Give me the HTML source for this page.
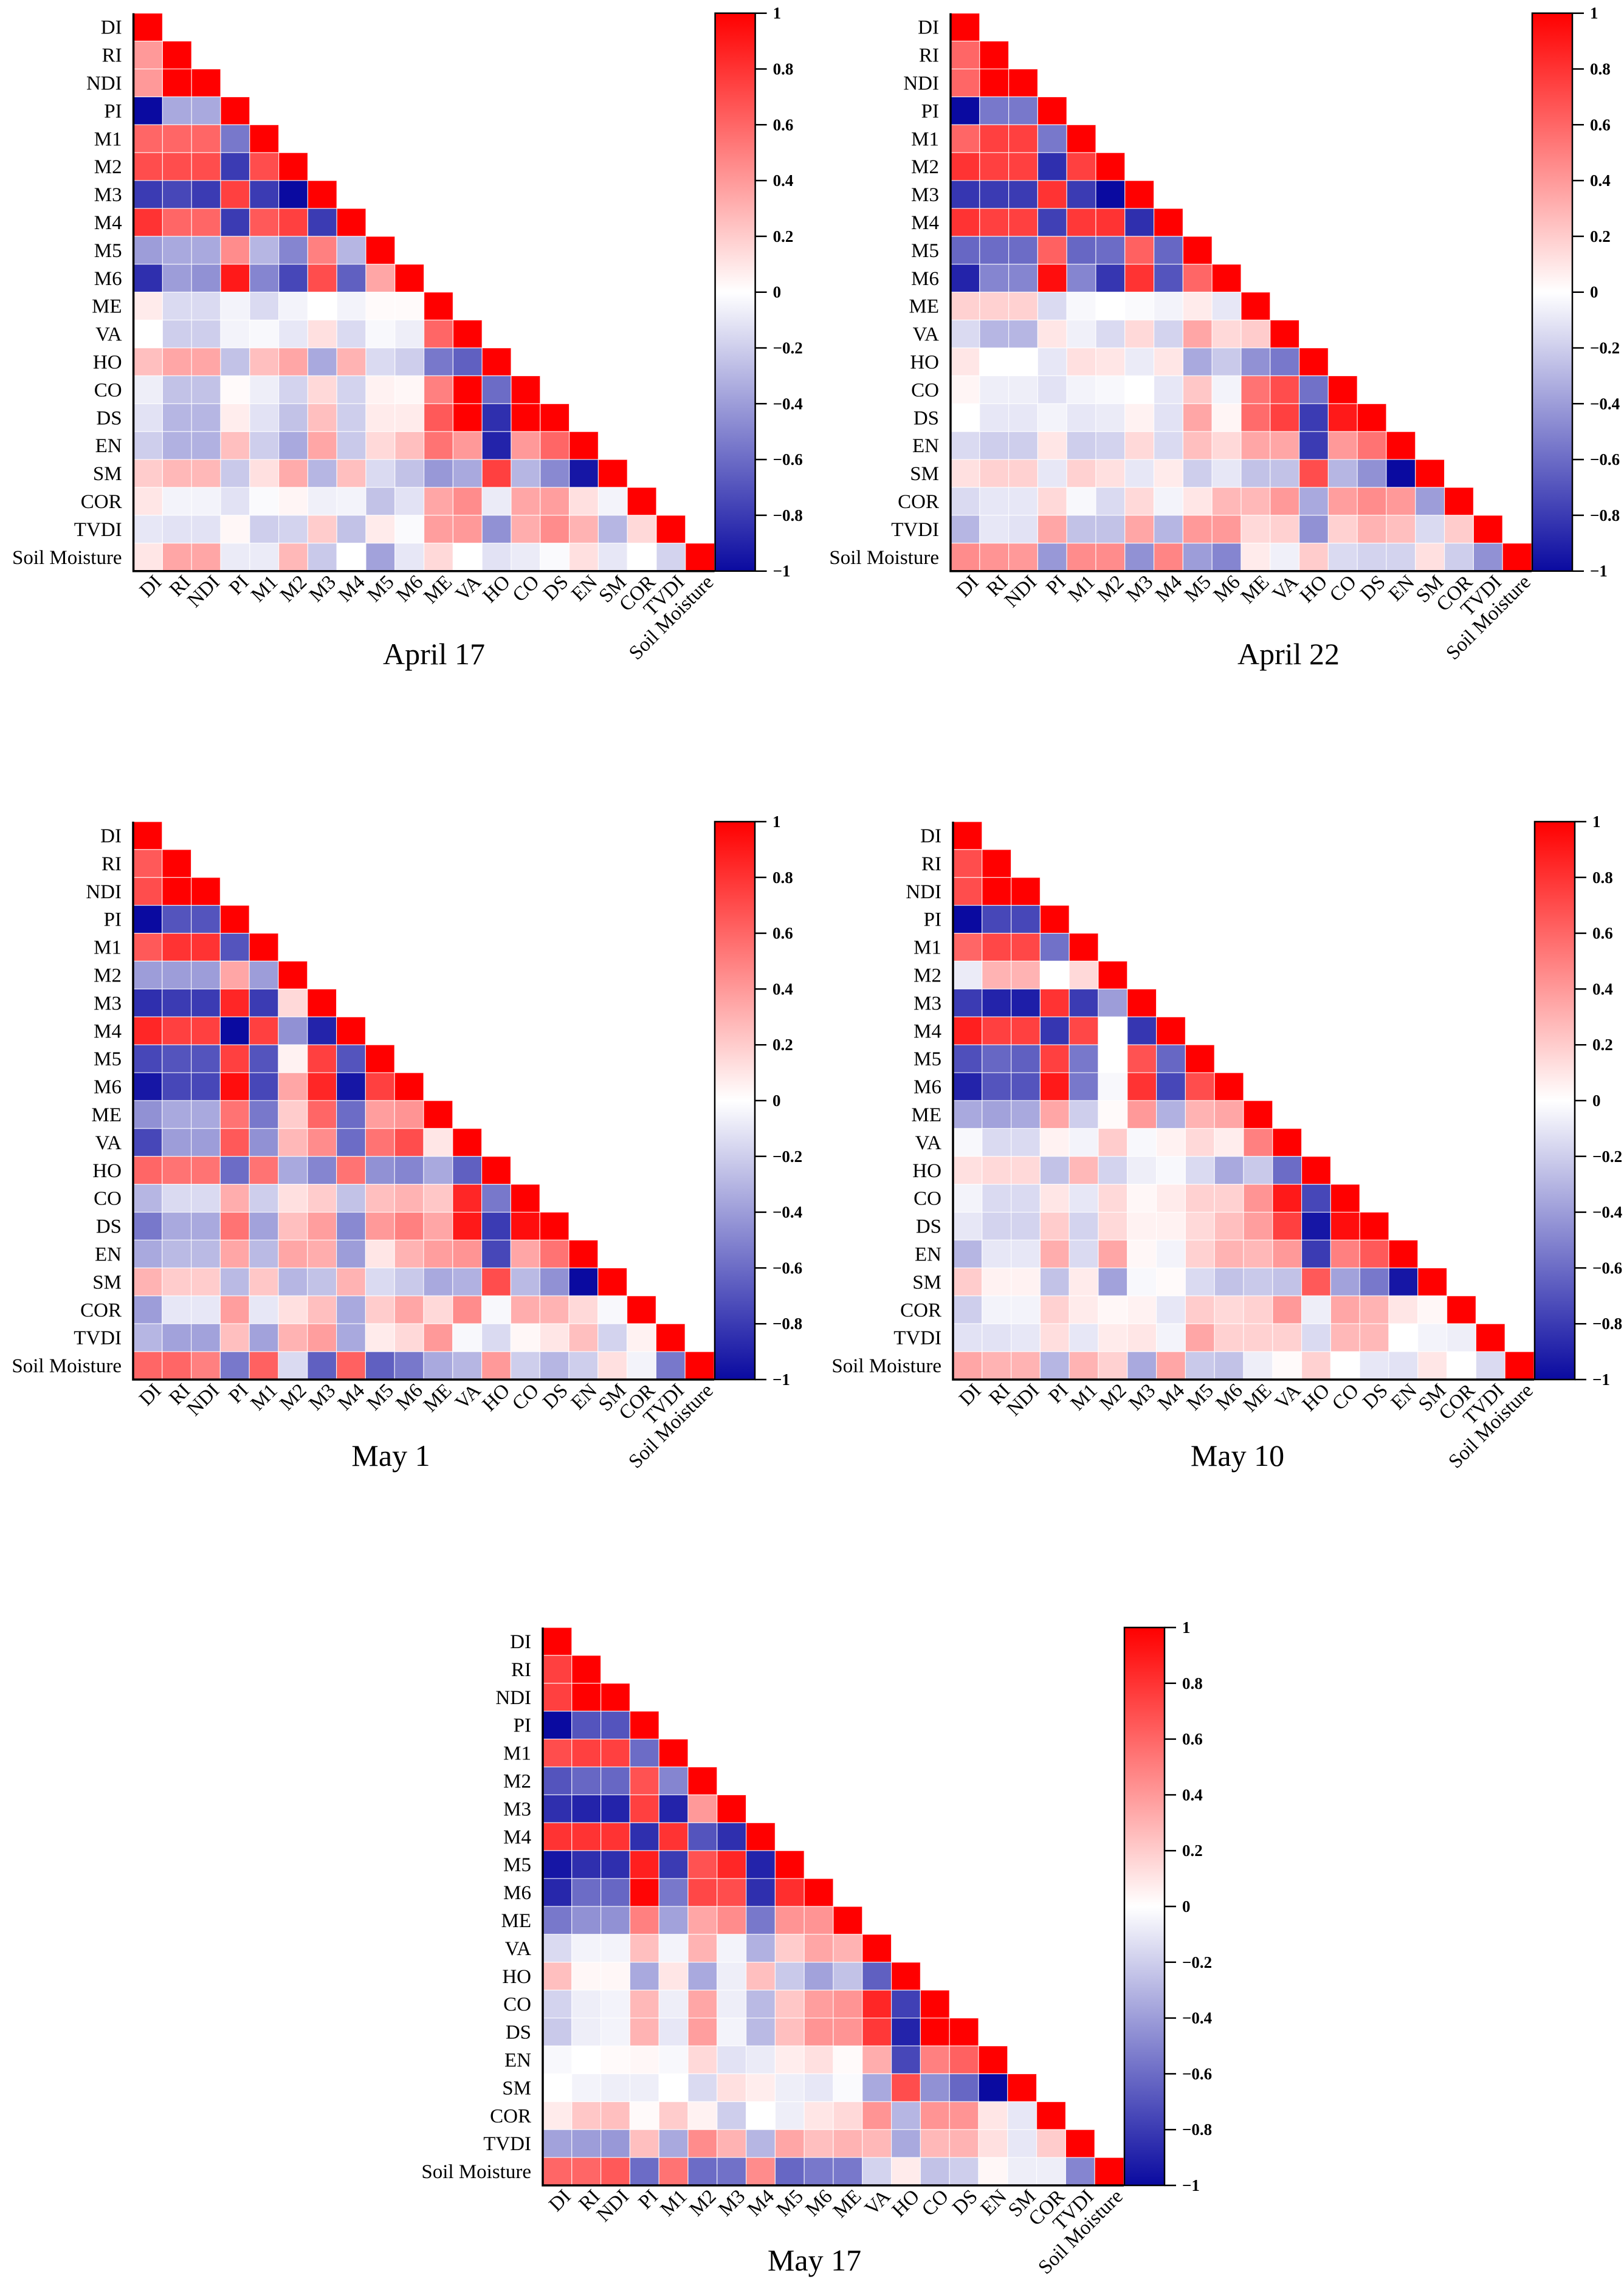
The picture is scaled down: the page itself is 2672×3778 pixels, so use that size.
<!DOCTYPE html>
<html>
<head>
<meta charset="utf-8">
<style>
html,body{margin:0;padding:0;background:#fff;}
svg{display:block;}
text{font-family:"Liberation Serif","Times New Roman",serif;fill:#000;}
.cb{font-weight:bold;}
</style>
</head>
<body>
<svg id="root" width="2672" height="3778" viewBox="0 0 2672 3778" xmlns="http://www.w3.org/2000/svg">
<defs>
<linearGradient id="cbgrad" x1="0" y1="0" x2="0" y2="1">
<stop offset="0" stop-color="rgb(255,0,0)"/>
<stop offset="0.5" stop-color="rgb(255,255,255)"/>
<stop offset="1" stop-color="rgb(10,10,160)"/>
</linearGradient>
</defs>
</svg>
<script>
const variables = ["DI","RI","NDI","PI","M1","M2","M3","M4","M5","M6","ME","VA","HO","CO","DS","EN","SM","COR","TVDI","Soil Moisture"];
const colorbarTicks = [1,0.8,0.6,0.4,0.2,0,-0.2,-0.4,-0.6,-0.8,-1];
const colorbarTickLabels = ["1","0.8","0.6","0.4","0.2","0","\u22120.2","\u22120.4","\u22120.6","\u22120.8","\u22121"];

const apr17 = [
[],
[0.4],
[0.4,1],
[-1,-0.35,-0.35],
[0.6,0.6,0.6,-0.55],
[0.7,0.7,0.7,-0.8,0.7],
[-0.8,-0.75,-0.8,0.75,-0.8,-1],
[0.8,0.6,0.6,-0.8,0.65,0.75,-0.8],
[-0.4,-0.35,-0.35,0.45,-0.3,-0.5,0.5,-0.3],
[-0.85,-0.4,-0.45,0.9,-0.5,-0.75,0.7,-0.65,0.35],
[0.08,-0.15,-0.15,-0.05,-0.15,-0.05,0,-0.05,0.02,0.02],
[0,-0.2,-0.2,-0.05,-0.03,-0.1,0.12,-0.15,-0.03,-0.07,0.6],
[0.25,0.35,0.35,-0.25,0.25,0.35,-0.35,0.3,-0.15,-0.2,-0.55,-0.65],
[-0.07,-0.25,-0.25,0.02,-0.07,-0.18,0.15,-0.18,0.05,0.03,0.5,1,-0.6],
[-0.12,-0.3,-0.3,0.07,-0.12,-0.25,0.25,-0.2,0.08,0.08,0.65,1,-0.85,1],
[-0.2,-0.32,-0.32,0.25,-0.2,-0.35,0.35,-0.22,0.15,0.25,0.55,0.4,-0.9,0.4,0.6],
[0.2,0.28,0.28,-0.22,0.12,0.33,-0.3,0.25,-0.15,-0.25,-0.42,-0.35,0.75,-0.3,-0.48,-0.95],
[0.1,-0.05,-0.05,-0.12,-0.02,0.04,-0.06,-0.05,-0.25,-0.12,0.35,0.45,-0.08,0.35,0.38,0.12,-0.05],
[-0.1,-0.12,-0.12,0.03,-0.2,-0.18,0.2,-0.25,0.08,-0.02,0.38,0.4,-0.45,0.32,0.45,0.3,-0.3,0.15],
[0.1,0.35,0.35,-0.08,-0.08,0.28,-0.22,0,-0.38,-0.1,0.15,0,-0.12,-0.08,-0.02,0.12,-0.1,0,-0.18]
];

const apr22 = [
[],
[0.6],
[0.6,1],
[-1,-0.55,-0.55],
[0.6,0.75,0.75,-0.55],
[0.8,0.75,0.75,-0.85,0.75],
[-0.82,-0.8,-0.8,0.8,-0.8,-1],
[0.8,0.75,0.75,-0.78,0.78,0.8,-0.85],
[-0.62,-0.6,-0.6,0.62,-0.62,-0.6,0.62,-0.62],
[-0.9,-0.5,-0.5,0.95,-0.5,-0.82,0.8,-0.7,0.6],
[0.18,0.18,0.18,-0.15,-0.03,0,-0.02,-0.05,0.08,-0.1],
[-0.15,-0.3,-0.3,0.1,-0.06,-0.15,0.15,-0.18,0.35,0.15,0.2],
[0.1,0,0,-0.1,0.12,0.1,-0.08,0.1,-0.35,-0.22,-0.45,-0.55],
[0.04,-0.07,-0.07,-0.12,-0.05,-0.03,0,-0.1,0.22,-0.05,0.55,0.7,-0.58],
[0,-0.1,-0.1,-0.05,-0.1,-0.08,0.05,-0.12,0.35,0.04,0.58,0.75,-0.8,0.9],
[-0.15,-0.2,-0.2,0.1,-0.2,-0.18,0.15,-0.15,0.25,0.15,0.35,0.35,-0.8,0.4,0.55],
[0.12,0.18,0.18,-0.1,0.18,0.12,-0.1,0.08,-0.2,-0.1,-0.25,-0.25,0.7,-0.3,-0.45,-1],
[-0.15,-0.1,-0.1,0.15,-0.03,-0.15,0.15,-0.05,0.1,0.28,0.28,0.4,-0.35,0.38,0.45,0.4,-0.4],
[-0.3,-0.1,-0.12,0.35,-0.25,-0.25,0.35,-0.3,0.4,0.4,0.15,0.18,-0.45,0.18,0.3,0.25,-0.15,0.2],
[0.45,0.42,0.4,-0.42,0.45,0.45,-0.45,0.48,-0.4,-0.5,0.08,-0.06,0.2,-0.15,-0.18,-0.18,0.12,-0.2,-0.45]
];

const may1 = [
[],
[0.65],
[0.7,1],
[-1,-0.7,-0.7],
[0.65,0.8,0.8,-0.7],
[-0.4,-0.4,-0.4,0.35,-0.4],
[-0.85,-0.8,-0.8,0.85,-0.8,0.15],
[0.85,0.75,0.75,-1,0.75,-0.45,-0.9],
[-0.75,-0.7,-0.7,0.75,-0.7,0.05,0.75,-0.7],
[-0.95,-0.75,-0.75,0.95,-0.75,0.35,0.85,-0.95,0.75],
[-0.45,-0.35,-0.35,0.55,-0.55,0.2,0.6,-0.6,0.38,0.42],
[-0.75,-0.4,-0.4,0.65,-0.45,0.28,0.45,-0.6,0.55,0.7,0.1],
[0.6,0.55,0.55,-0.6,0.55,-0.35,-0.5,0.55,-0.45,-0.5,-0.35,-0.65],
[-0.3,-0.15,-0.15,0.32,-0.2,0.12,0.2,-0.25,0.25,0.3,0.22,0.85,-0.55],
[-0.55,-0.35,-0.35,0.55,-0.38,0.25,0.38,-0.48,0.4,0.5,0.35,0.9,-0.8,0.95],
[-0.35,-0.28,-0.28,0.35,-0.28,0.35,0.32,-0.4,0.1,0.3,0.38,0.42,-0.75,0.35,0.55],
[0.3,0.2,0.2,-0.28,0.22,-0.3,-0.25,0.3,-0.15,-0.22,-0.35,-0.32,0.7,-0.28,-0.45,-1],
[-0.4,-0.1,-0.1,0.38,-0.1,0.12,0.25,-0.35,0.2,0.35,0.15,0.45,-0.03,0.32,0.3,0.15,-0.03],
[-0.3,-0.38,-0.38,0.25,-0.38,0.3,0.38,-0.35,0.08,0.15,0.4,-0.03,-0.15,0.03,0.1,0.25,-0.18,0.05],
[0.6,0.6,0.5,-0.55,0.62,-0.15,-0.65,0.62,-0.65,-0.55,-0.35,-0.3,0.4,-0.2,-0.3,-0.2,0.12,-0.05,-0.55]
];

const may10 = [
[],
[0.7],
[0.7,1],
[-1,-0.75,-0.75],
[0.6,0.72,0.72,-0.58],
[-0.08,0.3,0.3,0,0.15],
[-0.8,-0.9,-0.92,0.8,-0.8,-0.4],
[0.88,0.75,0.75,-0.82,0.72,0,-0.82],
[-0.72,-0.62,-0.65,0.75,-0.55,0,0.68,-0.62],
[-0.9,-0.7,-0.7,0.9,-0.55,-0.03,0.8,-0.75,0.7],
[-0.35,-0.38,-0.35,0.35,-0.2,0.02,0.4,-0.32,0.3,0.35],
[-0.03,-0.15,-0.15,0.05,-0.05,0.2,-0.03,0.05,0.15,0.07,0.5],
[0.12,0.15,0.15,-0.25,0.28,-0.18,-0.07,-0.03,-0.15,-0.35,-0.22,-0.6],
[-0.05,-0.15,-0.15,0.1,-0.1,0.15,0.03,0.08,0.18,0.18,0.42,0.9,-0.75],
[-0.1,-0.18,-0.18,0.2,-0.18,0.15,0.05,0.05,0.15,0.25,0.38,0.75,-0.95,0.95],
[-0.3,-0.1,-0.1,0.32,-0.15,0.35,0.03,-0.05,0.18,0.3,0.28,0.4,-0.8,0.5,0.65],
[0.2,0.05,0.05,-0.25,0.08,-0.38,-0.03,0.02,-0.15,-0.25,-0.22,-0.25,0.65,-0.38,-0.55,-0.95],
[-0.2,-0.05,-0.05,0.18,0.08,0.03,0.05,-0.1,0.2,0.15,0.18,0.4,-0.07,0.35,0.3,0.1,0.03],
[-0.12,-0.12,-0.1,0.13,-0.1,0.08,0.1,-0.05,0.35,0.18,0.18,0.18,-0.15,0.28,0.28,0,-0.05,-0.07],
[0.35,0.3,0.3,-0.3,0.3,0.18,-0.35,0.35,-0.22,-0.25,-0.07,0.02,0.18,0,-0.1,-0.12,0.1,0,-0.15]
];

const may17 = [
[],
[0.75],
[0.75,1],
[-1,-0.7,-0.7],
[0.7,0.75,0.75,-0.6],
[-0.7,-0.62,-0.62,0.68,-0.5],
[-0.85,-0.9,-0.9,0.75,-0.9,0.4],
[0.8,0.8,0.8,-0.85,0.8,-0.7,-0.85],
[-0.95,-0.85,-0.85,0.88,-0.8,0.68,0.85,-0.9],
[-0.88,-0.6,-0.62,0.98,-0.55,0.72,0.7,-0.85,0.82],
[-0.55,-0.45,-0.45,0.5,-0.38,0.35,0.45,-0.55,0.42,0.42],
[-0.15,-0.05,-0.05,0.25,-0.05,0.3,-0.05,-0.32,0.2,0.35,0.3],
[0.25,0.03,0.03,-0.35,0.1,-0.35,-0.07,0.25,-0.22,-0.38,-0.25,-0.65],
[-0.18,-0.07,-0.05,0.28,-0.07,0.35,-0.07,-0.28,0.22,0.38,0.42,0.85,-0.78],
[-0.22,-0.07,-0.05,0.3,-0.1,0.38,-0.05,-0.28,0.25,0.42,0.42,0.78,-0.9,1],
[-0.03,0,0.02,0.03,-0.03,0.15,-0.12,-0.08,0.07,0.12,0.02,0.32,-0.75,0.5,0.62],
[0,-0.05,-0.07,-0.07,0,-0.15,0.12,0.07,-0.07,-0.1,-0.02,-0.35,0.7,-0.45,-0.62,-1],
[0.08,0.22,0.25,0.02,0.2,0.05,-0.2,0,-0.07,0.1,0.15,0.42,-0.3,0.42,0.42,0.1,-0.1],
[-0.38,-0.4,-0.42,0.25,-0.35,0.45,0.3,-0.3,0.35,0.25,0.3,0.28,-0.35,0.28,0.3,0.12,-0.1,0.2],
[0.6,0.6,0.65,-0.6,0.55,-0.6,-0.58,0.45,-0.62,-0.55,-0.55,-0.18,0.08,-0.25,-0.2,0.03,-0.07,-0.07,-0.5]
];

const chartTitles = ["April 17","April 22","May 1","May 10","May 17"];
const chartData = [apr17, apr22, may1, may10, may17];

const NS = "http://www.w3.org/2000/svg";
const root = document.getElementById("root");
const layouts = [
  {left:219.6, top:21.7, tx:714, ty:1093},
  {left:1564, top:21.7, tx:2120, ty:1093},
  {left:219, top:1352, tx:643, ty:2412},
  {left:1568, top:1352, tx:2036, ty:2412},
  {left:893, top:2678, tx:1340, ty:3736}
];
const W = 956, H = 918;

function colorFor(v){
  v = Math.max(-1, Math.min(1, v));
  let r,g,b;
  if (v >= 0){ r = 255; g = 255*(1-v); b = 255*(1-v); }
  else { const t = -v; r = 255 + (10-255)*t; g = 255 + (10-255)*t; b = 255 + (160-255)*t; }
  return "rgb(" + Math.round(r) + "," + Math.round(g) + "," + Math.round(b) + ")";
}
function mk(tag, attrs, parent){
  const e = document.createElementNS(NS, tag);
  for (const k in attrs) e.setAttribute(k, attrs[k]);
  parent.appendChild(e);
  return e;
}

chartData.forEach(function(mat, ci){
  const L = layouts[ci];
  const n = variables.length;
  const cw = W / n, chh = H / n;
  const xPos = function(j){ return L.left + j*cw; };
  const yPos = function(i){ return L.top + i*chh; };
  const cbY = function(v){ return L.top + (1 - v)/2 * H; };

  const g = mk("g", {}, root);
  
  

  for (let i = 0; i < n; i++){
    for (let j = 0; j <= i; j++){
      const v = (j === i) ? 1 : mat[i][j];
      const r = mk("rect", {x:xPos(j), y:yPos(i), width:cw, height:chh, fill:colorFor(v), stroke:"#ffffff", "stroke-width":1.2, "stroke-opacity":0.8}, g);
      
      
    }
  }
  // axes
  const ax = mk("path", {d:"M"+(L.left)+","+(L.top)+" L"+(L.left)+","+(L.top+H)+" L"+(L.left+W)+","+(L.top+H), fill:"none", stroke:"#000", "stroke-width":3.5}, g);
  
  

  // y labels
  for (let i = 0; i < n; i++){
    const t = mk("text", {x:L.left-19, y:yPos(i)+chh/2+11, "text-anchor":"end", "font-size":33}, g);
    t.textContent = variables[i];
    
    
  }
  // x labels
  for (let j = 0; j < n; j++){
    const ax0 = xPos(j) + cw/2 + 24, ay0 = L.top + H + 20;
    const t = mk("text", {x:ax0, y:ay0, "text-anchor":"end", "font-size":33, transform:"rotate(-45 "+ax0+" "+ay0+")"}, g);
    t.textContent = variables[j];
    
    
  }
  // colorbar
  const cbx = L.left + W + 1;
  const cb = mk("rect", {x:cbx, y:L.top, width:66, height:H, fill:"url(#cbgrad)", stroke:"#000", "stroke-width":2.5}, g);
  
  
  colorbarTicks.forEach(function(tv, k){
    const y = cbY(tv);
    const tk = mk("line", {x1:cbx+66, x2:cbx+85, y1:y, y2:y, stroke:"#000", "stroke-width":2.5}, g);
    
    
    const tl = mk("text", {x:cbx+95, y:y+9, "font-size":27, "class":"cb"}, g);
    tl.textContent = colorbarTickLabels[k];
    
    
  });
  // title
  const tt = mk("text", {x:L.tx, y:L.ty, "text-anchor":"middle", "font-size":50}, g);
  tt.textContent = chartTitles[ci];
  
  
});
</script>
</body>
</html>
